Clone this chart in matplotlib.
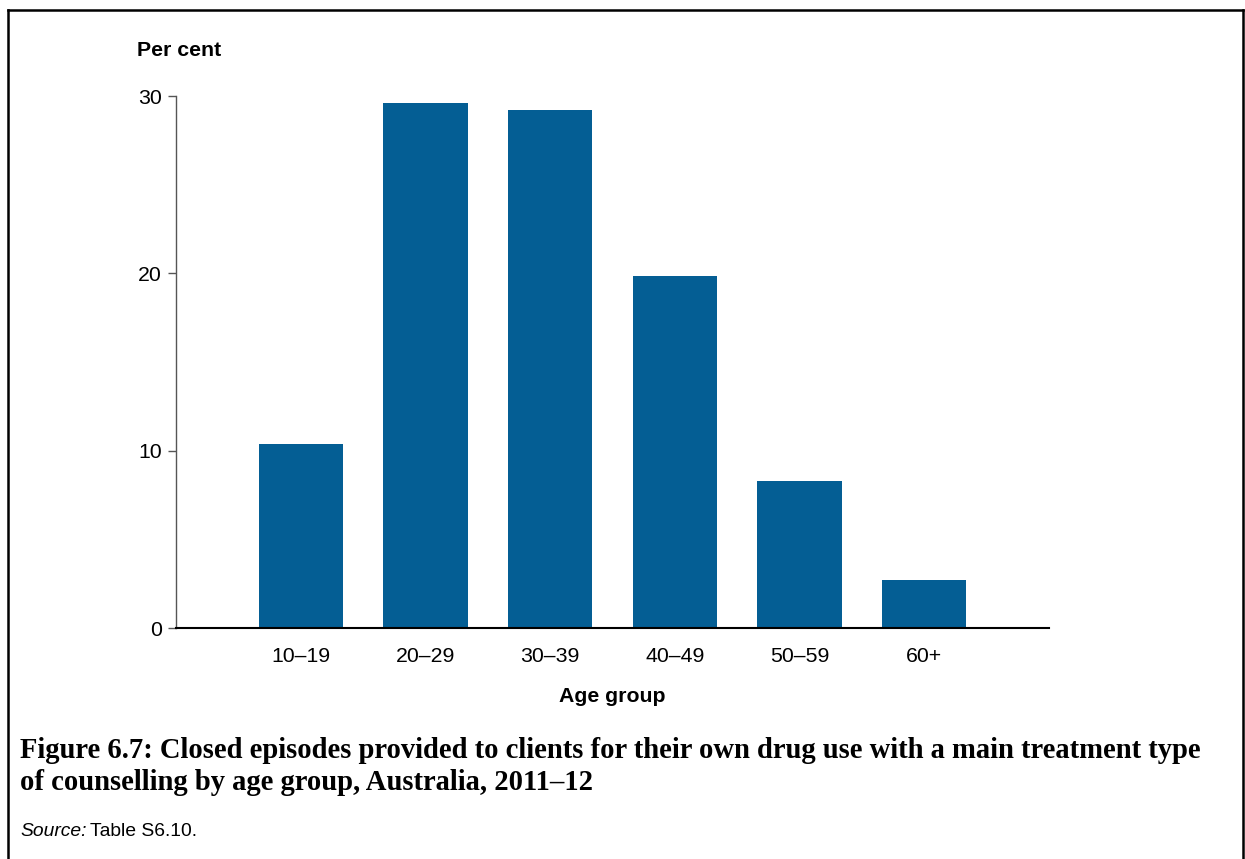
import matplotlib
matplotlib.use("Agg")
import matplotlib.pyplot as plt
from matplotlib.lines import Line2D

# data
age_groups = ["10–19", "20–29", "30–39", "40–49", "50–59", "60+"]
per_cent = [10.4, 29.6, 29.2, 19.85, 8.3, 2.7]
y_ticks = [0, 10, 20, 30]

BAR_COLOUR = "#045E94"
W, H = 1245, 859
FS = 15.3

plt.rcParams["font.family"] = ["Liberation Sans", "DejaVu Sans"]

fig = plt.figure(figsize=(W / 100, H / 100), dpi=100)
ax = fig.add_axes([176 / W, 1 - 628 / H, (1049 - 176) / W, (628 - 96) / H])

x = range(len(age_groups))
ax.bar(x, per_cent, width=0.675, color=BAR_COLOUR, zorder=2)

ax.set_xlim(-1, len(age_groups))
ax.set_ylim(0, 30)
ax.set_yticks(y_ticks)
ax.set_xticks(list(x))
ax.set_xticklabels(age_groups)

for side in ("top", "right"):
    ax.spines[side].set_visible(False)
ax.spines["left"].set_color("#555555")
ax.spines["left"].set_linewidth(1.0)
ax.spines["bottom"].set_color("black")
ax.spines["bottom"].set_linewidth(1.5)
ax.spines["bottom"].set_zorder(3)

ax.tick_params(axis="y", length=6, width=1.0, color="#555555", labelsize=FS, pad=4)
ax.tick_params(axis="x", length=0, labelsize=FS, pad=14)

ax.set_xlabel("Age group", fontsize=FS, fontweight="bold", va="center")
ax.xaxis.set_label_coords(0.5, (628 - 696) / (628 - 96))
fig.text(137 / W, 1 - 50 / H, "Per cent", fontsize=FS, fontweight="bold",
         va="center", ha="left")

# caption
cap_font = dict(fontsize=20.6, fontweight="bold",
                family=["Liberation Serif", "DejaVu Serif"], va="center", ha="left")
fig.text(20 / W, 1 - 750 / H,
         "Figure 6.7: Closed episodes provided to clients for their own drug use with a main treatment type",
         **cap_font)
fig.text(20 / W, 1 - 783 / H,
         "of counselling by age group, Australia, 2011–12", **cap_font)
src = fig.text(20 / W, 1 - 831 / H, "Source:", fontsize=13.9, style="italic",
               va="center", ha="left")
fig.canvas.draw()
bb = src.get_window_extent()
fig.text((bb.x1 + 4) / W, 1 - 831 / H, "Table S6.10.", fontsize=13.9,
         va="center", ha="left")

# frame around the figure (no bottom edge)
frame = dict(color="black", linewidth=1.8, transform=fig.transFigure)
fig.add_artist(Line2D([8 / W, 8 / W], [0, 1 - 10 / H], **frame))
fig.add_artist(Line2D([8 / W, 1243 / W], [1 - 10 / H, 1 - 10 / H], **frame))
fig.add_artist(Line2D([1243 / W, 1243 / W], [0, 1 - 10 / H], **frame))

fig.savefig("out.png", dpi=100)
